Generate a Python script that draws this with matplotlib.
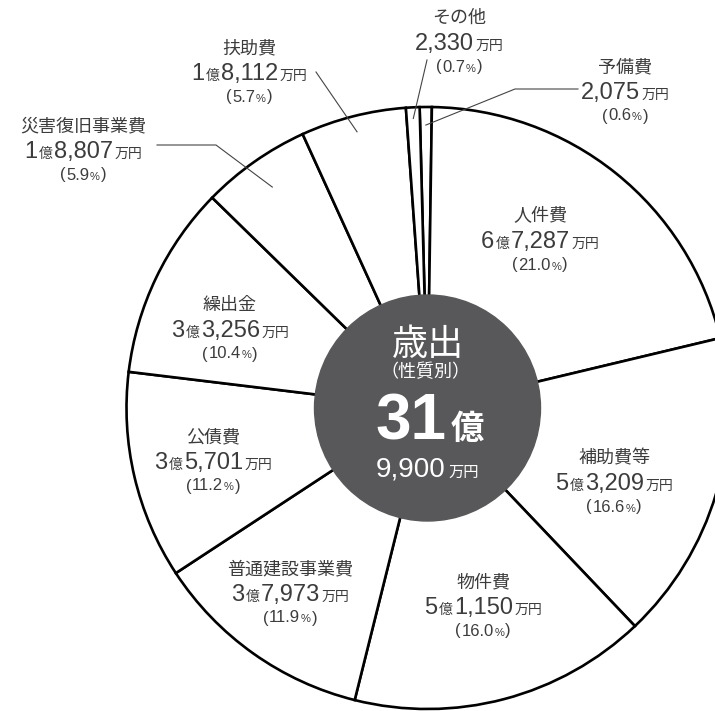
import matplotlib
matplotlib.use("Agg")
import matplotlib.pyplot as plt
from matplotlib.offsetbox import TextArea, HPacker, AnnotationBbox
import numpy as np

plt.rcParams['font.family'] = ['Noto Sans CJK JP', 'DejaVu Sans']
NUM = ['Liberation Sans', 'DejaVu Sans']

# 歳出（性質別） 単位：万円
names = ['予備費', '人件費', '補助費等', '物件費', '普通建設事業費',
         '公債費', '繰出金', '災害復旧事業費', '扶助費', 'その他']
amounts = [2075, 67287, 53209, 51150, 37973, 35701, 33256, 18807, 18112, 2330]

total = sum(amounts)

# label placement in picture pixels (x, y of the name line)
label_xy = [(625, 67), (540, 216), (614, 458), (483, 582), (290, 569),
            (213, 437), (230, 305), (83, 126), (249, 48), (459, 18)]

W, H = 715, 711
cx, cy, R = 427.5, H - 408, 301
TXT = '#3c3c3c'


def Y(y):
    return H - y


def line(ax, parts, x, y, sep=1.0):
    kids = []
    for t, size, kw in parts:
        props = dict(fontsize=size, color=kw.get('color', TXT))
        props.update({k: v for k, v in kw.items() if k != 'color'})
        kids.append(TextArea(t, textprops=props))
    box = HPacker(children=kids, align='baseline', pad=0, sep=sep)
    ab = AnnotationBbox(box, (x, Y(y)), frameon=False, pad=0,
                        box_alignment=(0.5, 0.5), zorder=6)
    ax.add_artist(ab)


fig = plt.figure(figsize=(W / 100, H / 100), dpi=100)
ax = fig.add_axes([0, 0, 1, 1])

wedges, _ = ax.pie(amounts, startangle=91.5, counterclock=False,
                   center=(cx, cy), radius=R,
                   wedgeprops=dict(facecolor='white', edgecolor='black',
                                   linewidth=1.9))
ax.set_xlim(0, W)
ax.set_ylim(0, H)
ax.set_aspect('equal')
ax.axis('off')

# center disc
ax.add_patch(plt.Circle((cx, cy), 113, color='#58585a', zorder=5))
line(ax, [('歳出', 26, {'color': 'white'})], cx, 345)
line(ax, [('（性質別）', 13, {'color': 'white'})], cx - 2, 372)
line(ax, [(str(total // 10000), 46, {'color': 'white', 'fontweight': 'bold',
                                     'family': NUM}),
          ('億', 24, {'color': 'white', 'fontweight': 'bold'})], cx + 2, 422, sep=3)
line(ax, [(f'{total % 10000:,}', 20, {'color': 'white', 'family': NUM}),
          ('万円', 11, {'color': 'white'})], cx, 470, sep=2)

# slice labels
for name, a, (x, y) in zip(names, amounts, label_xy):
    oku, man = a // 10000, a % 10000
    pct = round(a / total * 100, 1)
    line(ax, [(name, 13, {})], x, y)
    parts = []
    if oku:
        parts += [(str(oku), 17, {'family': NUM}), ('億', 10, {})]
    parts += [(f'{man:,}', 17, {'family': NUM}), ('万円', 10, {})]
    line(ax, parts, x, y + 26)
    line(ax, [('(', 12, {'family': NUM}), (f'{pct:.1f}', 12, {'family': NUM}),
              ('%', 8, {'family': NUM}), (')', 12, {'family': NUM})],
         x, y + 49, sep=0.5)


# leader lines for the small slices
def wedge_point(w, frac):
    ang = np.deg2rad((w.theta1 + w.theta2) / 2)
    return cx + frac * R * np.cos(ang), cy + frac * R * np.sin(ang)


leaders = {
    '予備費': ([(578, 89), (515, 89)], 0.94),
    'その他': ([(427, 60)], 0.963),
    '扶助費': ([(316, 72)], 0.947),
    '災害復旧事業費': ([(157, 145), (216, 145)], 0.897),
}
for name, (pts, frac) in leaders.items():
    w = wedges[names.index(name)]
    xs = [p[0] for p in pts]
    ys = [Y(p[1]) for p in pts]
    ex, ey = wedge_point(w, frac)
    ax.plot(xs + [ex], ys + [ey], color='#444444', lw=0.8, zorder=4)

fig.savefig('out.png', dpi=100)
